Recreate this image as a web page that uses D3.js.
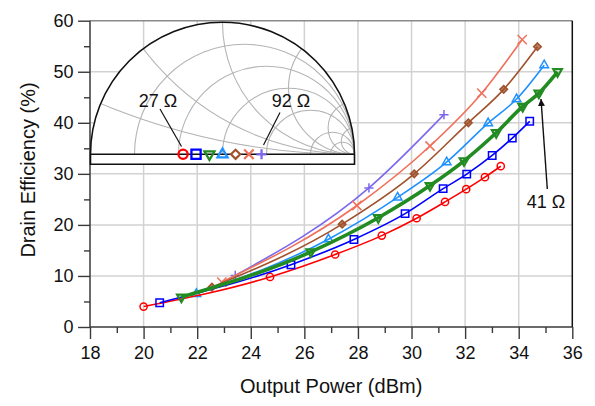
<!DOCTYPE html>
<html><head><meta charset="utf-8">
<script src="https://cdn.jsdelivr.net/npm/d3@7"></script>
<style>
html,body{margin:0;padding:0;background:#fff;}
svg{display:block;font-family:"Liberation Sans",Arial,sans-serif;}
</style></head>
<body>
<svg id="c" width="595" height="406"></svg>
<script>
// ---- data ----
const seriesNames = ["27 Ω","33 Ω","41 Ω","50 Ω","61 Ω","75 Ω","92 Ω"];
const loadOhms    = [27, 33.3, 41, 50, 61, 75, 92];
const colors      = ["#ff0000","#0000ff","#228b22","#1e90ff","#a0522d","#f0705a","#7b68ee"];
const markerTypes = ["circle","square","tdown","tup","diamond","x","plus"];

const pout27 = [20.0, 24.72, 27.15, 28.89, 30.19, 31.25, 32.04, 32.74, 33.33];
const de27   = [4.0, 9.8, 14.2, 17.9, 21.3, 24.5, 27.0, 29.35, 31.5];
const pout33 = [20.6, 25.5, 27.85, 29.76, 31.18, 32.06, 33.01, 33.76, 34.41];
const de33   = [4.75, 12.2, 17.15, 22.2, 27.1, 29.95, 33.6, 37.0, 40.3];
const pout41 = [21.41, 26.24, 28.76, 30.69, 31.96, 33.16, 34.15, 34.75, 35.45];
const de41   = [5.85, 14.7, 21.4, 27.7, 32.55, 38.05, 43.2, 45.8, 50.0];
const pout50 = [21.97, 26.9, 29.48, 31.31, 32.86, 33.92, 34.95];
const de50   = [6.5, 17.2, 25.4, 32.3, 39.95, 44.65, 51.3];
const pout61 = [22.55, 27.41, 30.1, 32.12, 33.44, 34.7];
const de61   = [7.8, 20.15, 30.0, 40.0, 46.55, 54.9];
const pout75 = [22.92, 27.96, 30.69, 32.62, 34.13];
const de75   = [8.8, 23.8, 35.45, 45.8, 56.3];
const pout92 = [23.42, 28.41, 31.21];
const de92   = [10.1, 27.25, 41.6];

const xMajor = [18,20,22,24,26,28,30,32,34,36];
const xMinor = [19,21,23,25,27,29,31,33,35];
const yMajor = [0,10,20,30,40,50,60];
const yMinor = [5,15,25,35,45,55];
const smithR = [0.2,0.5,1,2,5,10];
const smithX = [0.2,0.5,1,2,5,10];

const xs = [pout27,pout33,pout41,pout50,pout61,pout75,pout92];
const ys = [de27,de33,de41,de50,de61,de75,de92];

// ---- layout ----
const svg = d3.select("#c");
const L = 90, R = 572.3, T = 20.7, B = 327;
const x = d3.scaleLinear().domain([18,36]).range([L,R]);
const y = d3.scaleLinear().domain([0,60]).range([B,T]);

// grid
const g = svg.append("g");
g.selectAll("line.gx").data(xMajor.filter(v=>v>18&&v<36)).join("line")
  .attr("x1",d=>x(d)).attr("x2",d=>x(d)).attr("y1",T).attr("y2",B)
  .attr("stroke","#d2d2d2").attr("stroke-width",1.5);
g.selectAll("line.gy").data(yMajor.filter(v=>v>0&&v<60)).join("line")
  .attr("y1",d=>y(d)).attr("y2",d=>y(d)).attr("x1",L).attr("x2",R)
  .attr("stroke","#d2d2d2").attr("stroke-width",1.5);

// axes
const axCol = "#3a3a3a";
function styleAxis(sel){
  sel.select(".domain").remove();
  sel.selectAll(".tick line").attr("stroke",axCol).attr("stroke-width",1.4);
  sel.selectAll("text").attr("fill","#111").style("font-size","18px")
     .style("font-family","'Liberation Sans',Arial,sans-serif");
}
svg.append("g").attr("transform",`translate(0,${B})`)
  .call(d3.axisBottom(x).tickValues(xMajor).tickFormat(d3.format("d")).tickSize(12).tickPadding(7))
  .call(styleAxis);
svg.append("g").attr("transform",`translate(0,${B})`)
  .call(d3.axisBottom(x).tickValues(xMinor).tickFormat("").tickSize(6))
  .call(styleAxis);
svg.append("g").attr("transform",`translate(${L},0)`)
  .call(d3.axisLeft(y).tickValues(yMajor).tickFormat(d3.format("d")).tickSize(12).tickPadding(4.5))
  .call(styleAxis);
svg.append("g").attr("transform",`translate(${L},0)`)
  .call(d3.axisLeft(y).tickValues(yMinor).tickFormat("").tickSize(6))
  .call(styleAxis);

// frame
svg.append("line").attr("x1",L).attr("x2",R).attr("y1",T).attr("y2",T).attr("stroke","#8a8a8a").attr("stroke-width",1.6);
svg.append("line").attr("x1",R).attr("x2",R).attr("y1",T).attr("y2",B).attr("stroke","#111").attr("stroke-width",1.5);
svg.append("line").attr("x1",L).attr("x2",L).attr("y1",T).attr("y2",B).attr("stroke",axCol).attr("stroke-width",1.5);
svg.append("line").attr("x1",L).attr("x2",R).attr("y1",B).attr("y2",B).attr("stroke",axCol).attr("stroke-width",1.5);

// axis titles
svg.append("text").attr("x",(L+R)/2).attr("y",393).attr("text-anchor","middle")
  .style("font-size","20px").attr("fill","#111").text("Output Power (dBm)");
svg.append("text").attr("transform","translate(35,170) rotate(-90)").attr("text-anchor","middle")
  .style("font-size","20px").attr("fill","#111").text("Drain Efficiency (%)");

// markers
function markerPath(type, s){
  switch(type){
    case "square": return `M${-s},${-s}H${s}V${s}H${-s}Z`;
    case "tup": return `M0,${-s*1.15}L${s},${s*0.6}L${-s},${s*0.6}Z`;
    case "tdown": return `M0,${s*1.15}L${s},${-s*0.6}L${-s},${-s*0.6}Z`;
    case "diamond": return `M0,${-s}L${s},0L0,${s}L${-s},0Z`;
    case "x": return `M${-s},${-s}L${s},${s}M${-s},${s}L${s},${-s}`;
    case "plus": return `M${-s},0H${s}M0,${-s}V${s}`;
  }
}
function drawMarker(sel, type, color, s, sw){
  if(type==="circle"){
    sel.append("circle").attr("r",s).attr("fill","none").attr("stroke",color).attr("stroke-width",sw);
  } else {
    const filled = type==="diamond";
    sel.append("path").attr("d",markerPath(type, type==="x"||type==="plus"? s*1.25 : s))
      .attr("fill", filled ? color : "none").attr("fill-opacity", filled?0.75:1)
      .attr("stroke",color).attr("stroke-width",sw).attr("stroke-linejoin","miter");
  }
}

// series (draw back to front)
const line = d3.line().x(d=>x(d[0])).y(d=>y(d[1])).curve(d3.curveMonotoneX);
const order = [6,5,4,3,0,1,2];
order.forEach(i=>{
  const pts = xs[i].map((v,k)=>[v, ys[i][k]]);
  const gs = svg.append("g");
  gs.append("path").attr("d",line(pts)).attr("fill","none").attr("stroke",colors[i])
    .attr("stroke-width", i===2 ? 3.6 : 1.6).attr("stroke-linejoin","round");
  pts.forEach(p=>{
    const m = gs.append("g").attr("transform",`translate(${x(p[0])},${y(p[1])})`);
    const s = {circle:3.6,square:3.7,tdown:4.3,tup:4.3,diamond:3.8,x:3.7,plus:3.7}[markerTypes[i]];
    drawMarker(m, markerTypes[i], colors[i], s, i===2?2.2:1.5);
  });
});

// ---- inset Smith chart ----
const gx = d3.scaleLinear().domain([-1,1]).range([90.5,354.5]);
const gy = d3.scaleLinear().domain([0,1]).range([154.3,22.3]);
const rad = gx(1)-gx(0);
const inset = svg.append("g");
const bottomY = 164.3;
inset.append("path")
  .attr("d",`M${gx(-1)},${bottomY}L${gx(-1)},${gy(0)}A${rad},${rad} 0 0 1 ${gx(1)},${gy(0)}L${gx(1)},${bottomY}Z`)
  .attr("fill","#fff").attr("stroke","none");
svg.append("defs").append("clipPath").attr("id","half")
  .append("path").attr("d",`M${gx(-1)},${gy(0)}A${rad},${rad} 0 0 1 ${gx(1)},${gy(0)}Z`);
const grid = inset.append("g").attr("clip-path","url(#half)");
smithR.forEach(r=>{
  grid.append("circle").attr("cx",gx(r/(1+r))).attr("cy",gy(0)).attr("r",rad/(1+r))
    .attr("fill","none").attr("stroke","#b4b4b4").attr("stroke-width",1.1);
});
smithX.forEach(xx=>{
  grid.append("circle").attr("cx",gx(1)).attr("cy",gy(1/xx)).attr("r",rad/xx)
    .attr("fill","none").attr("stroke","#b4b4b4").attr("stroke-width",1.1);
});
inset.append("path")
  .attr("d",`M${gx(-1)},${bottomY}L${gx(-1)},${gy(0)}A${rad},${rad} 0 0 1 ${gx(1)},${gy(0)}L${gx(1)},${bottomY}Z`)
  .attr("fill","none").attr("stroke","#111").attr("stroke-width",1.6);
inset.append("line").attr("x1",gx(-1)).attr("x2",gx(1)).attr("y1",gy(0)).attr("y2",gy(0))
  .attr("stroke","#111").attr("stroke-width",1.6);

// inset labels and leaders
inset.append("line").attr("x1",160).attr("y1",109).attr("x2",181.5).attr("y2",146.5).attr("stroke","#111").attr("stroke-width",1.2);
inset.append("line").attr("x1",280).attr("y1",112.5).attr("x2",263.5).attr("y2",145).attr("stroke","#111").attr("stroke-width",1.2);
inset.append("text").attr("x",158).attr("y",107).attr("text-anchor","middle").style("font-size","18px").attr("fill","#111").text(seriesNames[0]);
inset.append("text").attr("x",291).attr("y",107).attr("text-anchor","middle").style("font-size","18px").attr("fill","#111").text(seriesNames[6]);

// inset markers
loadOhms.forEach((Rl,i)=>{
  const G = (Rl-50)/(Rl+50);
  const m = inset.append("g").attr("transform",`translate(${gx(G)},${gy(0)})`);
  const s = {circle:4.6,square:4.6,tdown:5,tup:5,diamond:4.6,x:3.8,plus:4.0}[markerTypes[i]];
  if(markerTypes[i]==="diamond"){
    m.append("path").attr("d",markerPath("diamond",s)).attr("fill","#fff").attr("stroke",colors[i]).attr("stroke-width",2.2);
  } else drawMarker(m, markerTypes[i], colors[i], s, 2.3);
});

// 41 Ω annotation with arrow
svg.append("defs").append("marker").attr("id","ah").attr("viewBox","0 0 10 10")
  .attr("refX",10).attr("refY",5).attr("markerWidth",7).attr("markerHeight",10)
  .attr("orient","auto").attr("markerUnits","userSpaceOnUse")
  .append("path").attr("d","M0,0L10,5L0,10Z").attr("fill","#111");
svg.append("line").attr("x1",547.3).attr("y1",189).attr("x2",541).attr("y2",99)
  .attr("stroke","#111").attr("stroke-width",1.4).attr("marker-end","url(#ah)");
svg.append("text").attr("x",546).attr("y",207.5).attr("text-anchor","middle").style("font-size","18px").attr("fill","#111").text(seriesNames[2]);
</script>
</body></html>
